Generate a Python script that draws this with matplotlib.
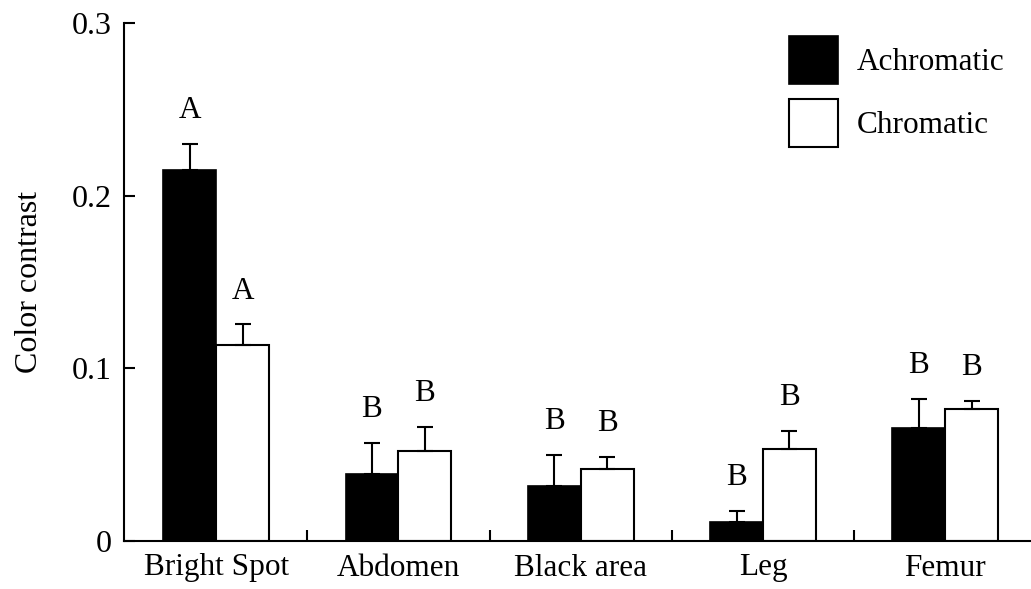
import numpy as np
import matplotlib
matplotlib.use("Agg")
import matplotlib.pyplot as plt
from matplotlib.patches import Patch

plt.rcParams['font.family'] = ['Liberation Serif', 'DejaVu Serif']

categories = ["Bright Spot", "Abdomen", "Black area", "Leg", "Femur"]
achromatic = [0.215, 0.0386, 0.0318, 0.0108, 0.0652]
achromatic_err = [0.0149, 0.0180, 0.0180, 0.0066, 0.0170]
chromatic = [0.1134, 0.0523, 0.0419, 0.0535, 0.0766]
chromatic_err = [0.0120, 0.0137, 0.0067, 0.0104, 0.0045]
achromatic_letters = ["A", "B", "B", "B", "B"]
chromatic_letters = ["A", "B", "B", "B", "B"]
yticks = [0, 0.1, 0.2, 0.3]
ytick_labels = ["0", "0.1", "0.2", "0.3"]

FS = 22.5
fig = plt.figure(figsize=(10.31, 5.89), dpi=100)
ax = fig.add_axes([124 / 1031, 1 - 541 / 589, 1 - 124 / 1031, (541 - 23) / 589])

x = np.arange(len(categories))
w = 0.29
err_kw = dict(ecolor='black', elinewidth=1.5, capsize=5.5, capthick=1.5)

ax.bar(x - w / 2, achromatic, w, color='black', edgecolor='black', linewidth=1.2,
       yerr=[np.zeros(len(x)), achromatic_err], error_kw=err_kw, zorder=2)
ax.bar(x + w / 2, chromatic, w, color='white', edgecolor='black', linewidth=1.5,
       yerr=[np.zeros(len(x)), chromatic_err], error_kw=err_kw, zorder=2)

gap = 0.015
for i in range(len(x)):
    ax.text(x[i] - w / 2, achromatic[i] + achromatic_err[i] + gap, achromatic_letters[i],
            ha='center', va='baseline', fontsize=FS)
    ax.text(x[i] + w / 2, chromatic[i] + chromatic_err[i] + gap, chromatic_letters[i],
            ha='center', va='baseline', fontsize=FS)

ax.set_xlim(-0.505, len(x) - 1 + 0.47)
ax.set_ylim(0, 0.3)

ax.set_xticks(x)
ax.set_xticklabels(categories, fontsize=FS)
ax.set_xticks(x[:-1] + 0.5, minor=True)
ax.tick_params(axis='x', which='major', length=0, pad=9)
ax.tick_params(axis='x', which='minor', direction='in', length=8, width=1.5)

ax.set_yticks(yticks)
ax.set_yticklabels(ytick_labels, fontsize=23)
ax.tick_params(axis='y', direction='in', length=8, width=1.5, pad=9)
ax.set_ylabel("Color contrast", fontsize=23, labelpad=20)

for side in ['top', 'right']:
    ax.spines[side].set_visible(False)
for side in ['left', 'bottom']:
    ax.spines[side].set_linewidth(1.5)

handles = [Patch(facecolor='black', edgecolor='black', linewidth=1.2, label='Achromatic'),
           Patch(facecolor='white', edgecolor='black', linewidth=1.5, label='Chromatic')]
ax.legend(handles=handles, loc='upper left', bbox_to_anchor=(0.733, 0.975),
          frameon=False, fontsize=FS, handlelength=1.56, handleheight=2.0,
          handletextpad=0.6, labelspacing=0.47, borderpad=0, borderaxespad=0)

fig.savefig("out.png", dpi=100)
